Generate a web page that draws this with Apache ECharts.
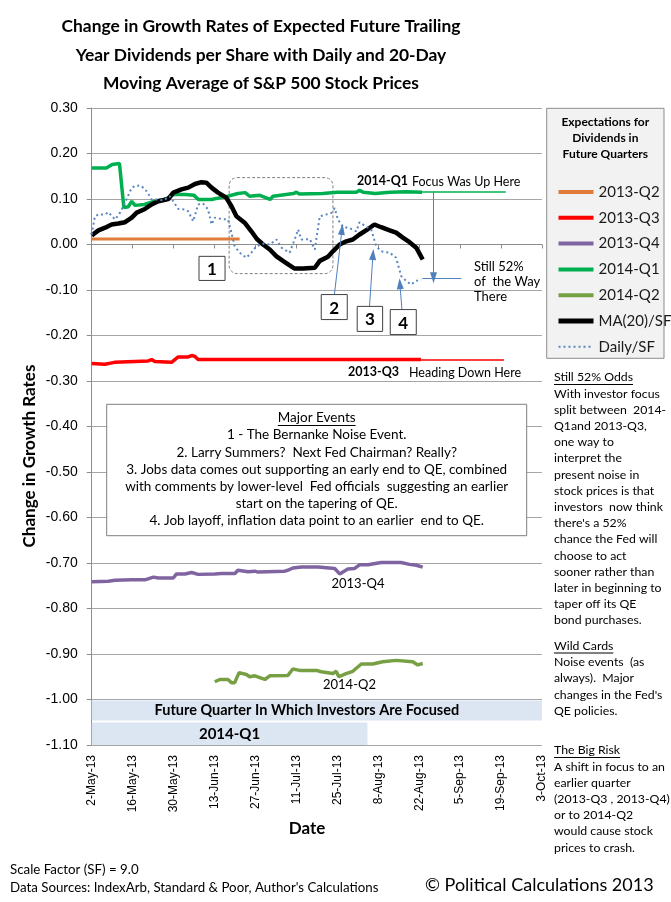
<!DOCTYPE html>
<html><head><meta charset="utf-8">
<script src="https://cdn.jsdelivr.net/npm/echarts@6/dist/echarts.min.js"></script>
<style>html,body{margin:0;padding:0;background:#fff}#c{width:671px;height:902px}</style>
</head><body><div id="c"></div>
<script>
// x values are days since 2-May-2013
const tickLabels = ['2-May-13','16-May-13','30-May-13','13-Jun-13','27-Jun-13','11-Jul-13','25-Jul-13','8-Aug-13','22-Aug-13','5-Sep-13','19-Sep-13','3-Oct-13'];
const seriesNames = ['2013-Q2','2013-Q3','2013-Q4','2014-Q1','2014-Q2','MA(20)/SF','Daily/SF'];

const q2_2013 = [[0,0.012],[25,0.012],[50.6,0.012]];
const q3_2013 = [[0,-0.2615],[4.5,-0.263],[7.8,-0.259],[14.8,-0.257],[19.3,-0.256],[20.5,-0.253],[21.6,-0.257],[27.3,-0.259],[29.6,-0.247],[33,-0.247],[34.2,-0.244],[35.3,-0.246],[36.4,-0.253],[70,-0.253],[112.6,-0.253]];
const q4_2013 = [[0,-0.741],[5.7,-0.740],[8,-0.738],[13.7,-0.737],[18.2,-0.737],[21.1,-0.731],[22.8,-0.733],[27.9,-0.733],[29,-0.724],[31.9,-0.724],[34.2,-0.721],[36.4,-0.725],[42.1,-0.724],[44.4,-0.723],[49,-0.723],[50,-0.716],[53.5,-0.719],[55.8,-0.718],[56.9,-0.720],[66,-0.718],[67.1,-0.716],[68.8,-0.711],[71.7,-0.709],[77.4,-0.709],[83.1,-0.712],[84.8,-0.724],[87.6,-0.713],[89.9,-0.712],[91.6,-0.704],[94.5,-0.704],[99,-0.699],[105.8,-0.699],[108.7,-0.703],[111,-0.705],[113.2,-0.709]];
const q1_2014 = [[0,0.168],[5,0.168],[7,0.176],[9.5,0.178],[11,0.081],[12.5,0.083],[13.7,0.095],[14.8,0.086],[18,0.088],[21.5,0.095],[25,0.099],[28,0.110],[32,0.110],[35,0.108],[36.5,0.099],[41,0.099],[44,0.103],[46.5,0.106],[50,0.112],[52.5,0.114],[54,0.106],[57.5,0.108],[61,0.099],[62,0.106],[69,0.112],[70,0.115],[71,0.111],[79,0.112],[84,0.115],[90.5,0.115],[91.6,0.119],[92.8,0.115],[97,0.112],[102,0.115],[107.5,0.116],[113,0.115]];
const q2_2014 = [[42.1,-0.961],[43.8,-0.956],[46.6,-0.956],[47.8,-0.963],[48.9,-0.963],[50.4,-0.941],[52.9,-0.945],[54,-0.950],[55.8,-0.948],[59.2,-0.956],[60.9,-0.948],[67.1,-0.947],[68.8,-0.933],[71.1,-0.936],[76.8,-0.936],[78.5,-0.939],[82.5,-0.943],[83.6,-0.938],[84.5,-0.950],[87,-0.943],[89.3,-0.938],[92.2,-0.922],[96.1,-0.922],[99.5,-0.917],[104.1,-0.914],[109.8,-0.917],[111.5,-0.924],[113.2,-0.921]];
const ma20 = [[0,0.020],[2.3,0.031],[4.6,0.037],[6.8,0.044],[9.1,0.046],[11.4,0.049],[13.7,0.059],[15.4,0.070],[18.2,0.078],[20.5,0.088],[22.8,0.095],[26.2,0.100],[27.9,0.114],[30.7,0.121],[33,0.125],[35.3,0.133],[37.5,0.137],[39.2,0.136],[41,0.125],[43.2,0.114],[46,0.103],[47.8,0.084],[49.5,0.062],[52.3,0.048],[54.6,0.029],[56.5,0.012],[58.6,0],[60.9,-0.011],[63.2,-0.026],[65.4,-0.036],[67.7,-0.046],[69.4,-0.053],[72.3,-0.053],[76.3,-0.051],[78,-0.036],[80.8,-0.027],[82.5,-0.015],[84.8,0],[87.1,0.007],[89.3,0.011],[91.6,0.022],[94.5,0.034],[96.7,0.044],[99,0.038],[101.9,0.031],[104.1,0.026],[106.4,0.015],[108.7,0.005],[111,-0.007],[113.2,-0.033]];
const daily = [[0,0.022],[1.1,0.062],[2.3,0.066],[4.6,0.066],[5.7,0.071],[8,0.055],[9.7,0.070],[11.4,0.092],[13.7,0.125],[15.4,0.130],[17.1,0.128],[18.8,0.117],[20.5,0.099],[22.2,0.099],[24.5,0.097],[26.7,0.106],[27.9,0.095],[29.6,0.078],[31.9,0.077],[33,0.073],[34.7,0.051],[36.4,0.088],[38.1,0.090],[39.8,0.077],[41,0.044],[42.1,0.059],[44.4,0.056],[46.6,0.055],[47.8,0.026],[48.9,-0.004],[50.6,-0.018],[52.9,-0.029],[54.6,-0.018],[56.3,-0.004],[58.6,0.002],[60.9,0],[63.2,0.011],[64.9,-0.007],[67.7,-0.018],[69.4,0.011],[70.6,0.033],[71.7,0.011],[74.6,0.012],[76.3,-0.011],[78,0.062],[80.2,0.066],[81.9,0.069],[83.1,0.080],[84.2,0.055],[85.9,0.039],[88.2,0.036],[90.5,0.029],[91.6,0.049],[93.9,0.039],[95.6,0.033],[97.3,-0.004],[99,-0.015],[101.9,-0.018],[104.1,-0.029],[105.8,-0.069],[107.5,-0.080],[109.2,-0.088],[110.9,-0.080],[112.7,-0.077]];

// annotation anchors (data coordinates)
const focusLine = [[113,0.116],[141.6,0.116]];
const headingLine = [[112.6,-0.253],[141,-0.253]];
const dropArrow = [[116.9,0.116],[116.9,-0.073]];
const still52Line = [[113.1,-0.075],[126.4,-0.075]];
const eventArrows = [[[83.0,-0.110],[85.6,0.033]],[[95.0,-0.137],[96.2,-0.022]],[[106.1,-0.143],[105.4,-0.086]]];
const eventBoxes = [['1',36.7,45.6,-0.026,-0.079],['2',78.5,87.4,-0.110,-0.165],['3',90.8,99.5,-0.136,-0.191],['4',102.1,111,-0.143,-0.198]];
const noiseBox = [47,82.5,0.147,-0.064];
const focusBand = [[0,-1.002],[154,-1.046]];
const q1Band = [[0,-1.0505],[94.3,-1.10]];

const FONT = 'Lato, "Open Sans", sans-serif';
const ARIAL = '"Liberation Sans", Arial, sans-serif';
const BLUE = '#4f81bd';

const chart = echarts.init(document.getElementById('c'));

function lineSeries(name, data, color, width, type) {
  return {name, type:'line', data, symbol:'none', showSymbol:false, smooth:false,
    lineStyle:{color, width, type: type||'solid'}, itemStyle:{color}, z:3};
}
const mlPair = (a,b,color,width,arrow) => [
  {coord:a, symbol:'none'},
  {coord:b, symbol: arrow ? 'triangle' : 'none', symbolSize: arrow ? [7,11] : 0, lineStyle:{color, width, type:'solid'}}
];

const series = [
  lineSeries(seriesNames[0], q2_2013, '#e07b39', 3),
  lineSeries(seriesNames[1], q3_2013, '#ff0000', 3.5),
  lineSeries(seriesNames[2], q4_2013, '#8064a2', 3.5),
  lineSeries(seriesNames[3], q1_2014, '#00b050', 3.5),
  lineSeries(seriesNames[4], q2_2014, '#77a044', 3.5),
  lineSeries(seriesNames[5], ma20, '#000000', 4.5),
  lineSeries(seriesNames[6], daily, '#5b86c0', 2, [2,3]),
];
series[6].markLine = {
  silent:true, symbol:['none','none'], label:{show:false}, animation:false,
  lineStyle:{color:BLUE, width:1, type:'solid'},
  data:[
    mlPair(focusLine[0], focusLine[1], '#00b050', 1.5, false),
    mlPair(headingLine[0], headingLine[1], '#ff0000', 1.5, false),
    mlPair(dropArrow[0], dropArrow[1], BLUE, 1, true),
    mlPair(still52Line[0], still52Line[1], BLUE, 1, false),
    ...eventArrows.map(p => mlPair(p[0], p[1], BLUE, 1, true))
  ]
};
series[0].markArea = {
  silent:true, animation:false,
  itemStyle:{color:'#dce6f2'},
  data:[
    [{coord:focusBand[0], label:{show:true, position:'inside', offset:[-10,0], formatter:'Future Quarter In Which Investors Are Focused', fontFamily:FONT, fontWeight:'bold', fontSize:14.5, color:'#000'}},{coord:focusBand[1]}],
    [{coord:q1Band[0], label:{show:true, position:'inside', formatter:'2014-Q1', fontFamily:FONT, fontWeight:'bold', fontSize:15, color:'#000'}},{coord:q1Band[1]}]
  ]
};

const option = {
  animation:false,
  backgroundColor:'#fff',
  grid:{left:91.7, right:129, top:108, bottom:157, containLabel:false},
  xAxis:[
    {type:'value', min:0, max:154, interval:14, position:'bottom',
     axisLine:{show:false, onZero:false}, axisTick:{show:false}, splitLine:{show:false},
     axisLabel:{rotate:90, margin:10, fontSize:12, fontFamily:ARIAL, color:'#000',
       formatter:v => tickLabels[Math.round(v/14)] || ''}},
    {type:'value', min:0, max:154, interval:14, position:'bottom',
     axisLine:{show:true, onZero:true, lineStyle:{color:'#8c8c8c', width:1}},
     axisTick:{show:true, length:4, lineStyle:{color:'#8c8c8c'}}, axisLabel:{show:false}, splitLine:{show:false}}
  ],
  yAxis:{type:'value', min:-1.1, max:0.3, interval:0.1,
    axisLine:{show:true, lineStyle:{color:'#8c8c8c'}},
    axisTick:{show:true, length:5, lineStyle:{color:'#8c8c8c'}},
    splitLine:{show:true, lineStyle:{color:'#a6a6a6', width:1}},
    axisLabel:{margin:14, fontSize:14, fontFamily:ARIAL, color:'#000', formatter:v => v.toFixed(2)}},
  legend:{orient:'vertical', left:551, top:179, itemWidth:35, itemHeight:14, itemGap:9.8,
    data:seriesNames.map((n,i)=>({name:n, lineStyle:{width: i===6 ? 2 : (i===5 ? 5 : 4)}})),
    selectedMode:false,
    itemStyle:{opacity:0, color:'rgba(0,0,0,0)', borderWidth:0},
    textStyle:{fontFamily:FONT, fontSize:15, lineHeight:16, color:'#1a1a1a'}},
  series
};
chart.setOption(option);

// ---- graphics (decorations & text) ----
const P = (x,y) => chart.convertToPixel({gridIndex:0}, [x,y]);
const measure = (() => { const c=document.createElement('canvas').getContext('2d'); return (t,f)=>{c.font=f; return c.measureText(t).width;}; })();
const g = [];
const txt = (x,y,text,opt,z) => g.push({type:'text', x, y, z: z||10, silent:true, style:Object.assign({text, fontFamily:FONT, fontSize:13, fill:'#000', textVerticalAlign:'middle', verticalAlign:'middle'}, opt||{})});

// title
['Change in Growth Rates of Expected Future Trailing','Year Dividends per Share with Daily and 20-Day','Moving Average of S&P 500 Stock Prices'].forEach((t,i)=>
  txt(261, 26.7 + i*28.3, t, {fontSize:17.4, fontWeight:'bold', align:'center', textAlign:'center'}));

// noise rounded dashed box
{ const a=P(noiseBox[0],noiseBox[2]), b=P(noiseBox[1],noiseBox[3]);
  g.push({type:'rect', silent:true, shape:{x:a[0],y:a[1],width:b[0]-a[0],height:b[1]-a[1],r:8}, style:{fill:'none', stroke:'#7f7f7f', lineWidth:1, lineDash:[3,2]}, z:1}); }
// numbered event boxes
eventBoxes.forEach(e=>{ const a=P(e[1],e[3]), b=P(e[2],e[4]);
  g.push({type:'rect', silent:true, shape:{x:a[0],y:a[1],width:b[0]-a[0],height:b[1]-a[1]}, style:{fill:'#fff', stroke:'#404040', lineWidth:1}, z:5});
  txt((a[0]+b[0])/2, (a[1]+b[1])/2+1, e[0], {fontSize:17, fontWeight:'bold', align:'center', textAlign:'center'}, 12);
});

// in-plot labels
txt(357, 181, '2014-Q1', {fontSize:12.5, fontWeight:'bold'});
txt(412, 181.5, 'Focus Was Up Here', {fontSize:12.5});
['Still 52%','of  the Way','There'].forEach((t,i)=>txt(474, 267+i*15, t, {fontSize:13}));
txt(348, 372, '2013-Q3', {fontSize:12.5, fontWeight:'bold'});
txt(409, 373, 'Heading Down Here', {fontSize:12.5});
txt(331.5, 584, '2013-Q4', {fontSize:13});
txt(323, 685, '2014-Q2', {fontSize:13});

// Major events box
g.push({type:'rect', silent:true, shape:{x:106.7,y:404.3,width:420,height:131.4}, style:{fill:'#fff', stroke:'#7f7f7f', lineWidth:1}, z:4});
const ev = ['Major Events','1 - The Bernanke Noise Event.','2. Larry Summers?  Next Fed Chairman? Really?','3. Jobs data comes out supporting an early end to QE, combined','with comments by lower-level  Fed officials  suggesting an earlier','start on the tapering of QE.','4. Job layoff, inflation data point to an earlier  end to QE.'];
const evY = [417.7,434.3,452.3,469.3,486.7,503.3,520.7];
const EVF = 13.5;
ev.forEach((t,i)=>txt(316.7, evY[i], t, {fontSize:EVF, align:'center', textAlign:'center'}, 12));
{ const w = measure(ev[0], EVF+'px Lato'); g.push({type:'line', silent:true, z:12, shape:{x1:316.7-w/2,y1:425.5,x2:316.7+w/2,y2:425.5}, style:{stroke:'#000', lineWidth:1}}); }

// legend box
g.push({type:'rect', silent:true, shape:{x:546.7,y:108.3,width:117.3,height:250}, style:{fill:'#f2f2f2', stroke:'#8c8c8c', lineWidth:1}, z:-1});
['Expectations for','Dividends in','Future Quarters'].forEach((t,i)=>txt(605.3, 122.3+i*15.9, t, {fontSize:12, fontWeight:'bold', align:'center', textAlign:'center'}));

// side notes
const LH = 16.2, SF = 12.3;
const para = (y0, head, lines) => {
  txt(554, y0, head, {fontSize:SF});
  const w = measure(head, SF+'px Lato');
  g.push({type:'line', silent:true, shape:{x1:554,y1:y0+7,x2:554+w,y2:y0+7}, style:{stroke:'#000', lineWidth:1}});
  lines.forEach((t,i)=>txt(554, y0+(i+1)*LH, t, {fontSize:SF}));
};
para(377.5, 'Still 52% Odds', ['With investor focus','split between  2014-','Q1and 2013-Q3,','one way to','interpret the','present noise in','stock prices is that','investors  now think',"there's a 52%",'chance the Fed will','choose to act','sooner rather than','later in beginning to','taper off its QE','bond purchases.']);
para(646, 'Wild Cards', ['Noise events  (as','always).  Major',"changes in the Fed's",'QE policies.']);
para(750.5, 'The Big Risk', ['A shift in focus to an','earlier quarter','(2013-Q3 , 2013-Q4)','or to 2014-Q2','would cause stock','prices to crash.']);

// axis titles
txt(307, 829, 'Date', {fontSize:17, fontWeight:'bold', align:'center', textAlign:'center'});
g.push({type:'text', silent:true, x:30, y:456, rotation:Math.PI/2, style:{text:'Change in Growth Rates', fontFamily:FONT, fontSize:17, fontWeight:'bold', fill:'#000', align:'center', textAlign:'center', verticalAlign:'middle', textVerticalAlign:'middle'}});

// footer
txt(10, 869.5, 'Scale Factor (SF) = 9.0', {fontSize:13.3});
txt(10, 887.5, "Data Sources: IndexArb, Standard & Poor, Author's Calculations", {fontSize:13.3});
txt(425, 885, '© Political Calculations 2013', {fontSize:18});

chart.setOption({graphic:{elements:g}});
</script></body></html>
